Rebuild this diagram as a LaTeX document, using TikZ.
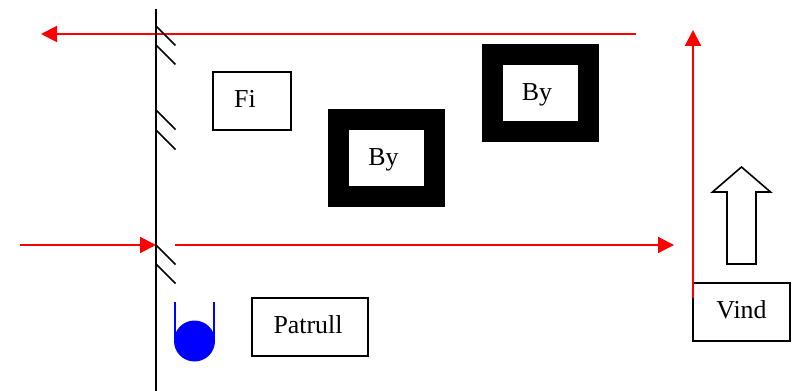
\documentclass[tikz,border=0pt]{standalone}
\usepackage{fontspec}
\setmainfont{Liberation Serif}
\usetikzlibrary{arrows.meta}
\definecolor{arrowred}{RGB}{255, 0, 0}
\definecolor{patrolblue}{RGB}{0, 0, 255}
\tikzset{
    redarrow/.style={draw=arrowred, line width=1.5pt, -{Triangle[length=12pt,width=12pt]}},
    labelbox/.style={draw, fill=white, line width=1.2pt, inner sep=0pt, text height=13pt, text depth=3pt},
    townbox/.style={draw, fill=white, line width=15.75pt, inner sep=0pt, text height=13pt, text depth=1pt},
    hatch/.style={line width=1.3pt}
}

\begin{document}
\begin{tikzpicture}[x=0.75pt, y=-0.75pt, font=\fontsize{19.4pt}{22pt}\selectfont]
    \useasboundingbox (0,0) rectangle (798,391);

    % Red arrows, under the wall
    \coordinate (topstart) at (636,34);
    \coordinate (topend) at (41,34);
    \coordinate (midstart) at (20,245);
    \coordinate (wallhit) at (156,245);
    \coordinate (reflstart) at (175,245);
    \coordinate (reflend) at (674,245);
    \draw[redarrow] (topstart) -- (topend);
    \draw[redarrow] (midstart) -- (wallhit);
    \draw[redarrow] (reflstart) -- (reflend);

    % Wall with hatches
    \draw[line width=1.5pt] (156,9) -- (156,391);
    \foreach \y in {26,45,110,130,245,264} {
        \draw[hatch] (156,\y) -- (175.5,\y+19.5);
    }

    % Boxes
    \node[labelbox, minimum width=78*0.75pt, minimum height=58*0.75pt] (fi) at (252,101) {Fi\kern 10.5pt};
    \node[townbox, minimum width=96*0.75pt, minimum height=77*0.75pt] (townA) at (386.5,158) {By\kern 4.5pt};
    \node[townbox, minimum width=96*0.75pt, minimum height=77*0.75pt] (townB) at (540,93) {By\kern 4.5pt};
    \node[labelbox, minimum width=116*0.75pt, minimum height=58*0.75pt] (patrol) at (310,327) {Patrull\kern 3pt};
    \node[labelbox, minimum width=97*0.75pt, minimum height=58*0.75pt] (wind) at (741.5,312) {Vind};

    % Patrol marker
    \node[circle, fill=patrolblue, inner sep=0pt, minimum size=41*0.75pt] (marker) at (194.5,341) {};
    \draw[patrolblue, line width=1.3pt] (175,302) -- (175,341);
    \draw[patrolblue, line width=1.3pt] (214,302) -- (214,341);

    % Wind direction
    \coordinate (windfoot) at (693,298);
    \coordinate (windtop) at (693,30);
    \draw[redarrow] (windfoot) -- (windtop);
    \draw[line width=1.2pt] (727,264) -- (727,192) -- (712.5,192) -- (741.5,167)
        -- (770.5,192) -- (756,192) -- (756,264) -- cycle;
\end{tikzpicture}
\end{document}
